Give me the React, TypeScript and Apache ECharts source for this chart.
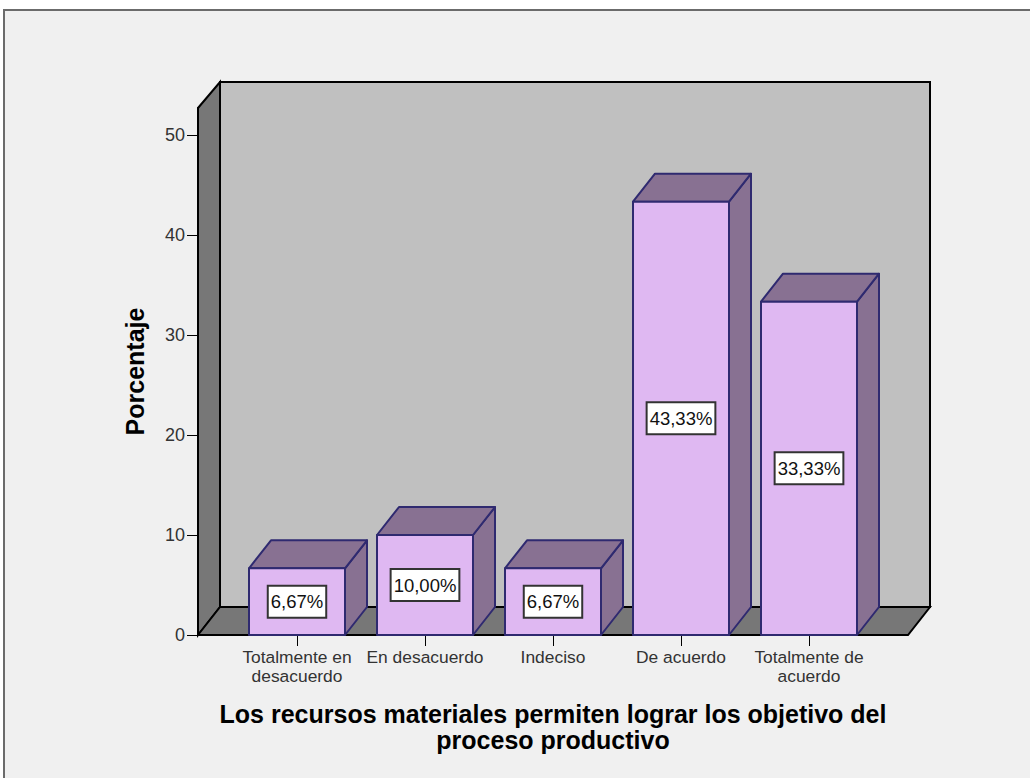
import React, { useEffect, useRef } from "react";
import * as echarts from "echarts";

const categories = [
  "Totalmente en\ndesacuerdo",
  "En desacuerdo",
  "Indeciso",
  "De acuerdo",
  "Totalmente de\nacuerdo",
];
const percentages = [6.67, 10.0, 6.67, 43.33, 33.33];
const yTicks = [0, 10, 20, 30, 40, 50];
const yTitle = "Porcentaje";
const xTitle = "Los recursos materiales permiten lograr los objetivo del\nproceso productivo";

const FONT = '"Liberation Sans", Arial, sans-serif';
const DX = 22;
const DY = -28;
const BAR_W = 96;
const FRONT = "#dfb8f2";
const SHADE = "#887192";
const EDGE = "#2f2a70";

const formatPct = (v: number) => v.toFixed(2).replace(".", ",") + "%";

export default function App() {
  const ref = useRef<HTMLDivElement>(null);
  useEffect(() => {
    const chart = echarts.init(ref.current!, null, { renderer: "svg" });

    const renderFrame = (_p: any, api: any) => {
      const origin = api.coord([0, 0]);
      const topPoint = api.coord([0, 52.7]);
      const y0 = origin[1];
      const yT = topPoint[1];
      const yB = yT - 26;
      const xL = 198;
      const xR = 908;
      const line = { stroke: "#000", lineWidth: 2, lineJoin: "miter" };
      return {
        type: "group",
        children: [
          {
            type: "polygon",
            shape: { points: [[xL + DX, yB], [xR + DX, yB], [xR + DX, y0 + DY], [xL + DX, y0 + DY]] },
            style: { fill: "#c0c0c0", ...line },
          },
          {
            type: "polygon",
            shape: { points: [[xL, yT], [xL + DX, yB], [xL + DX, y0 + DY], [xL, y0]] },
            style: { fill: "#777777", ...line },
          },
          {
            type: "polygon",
            shape: { points: [[xL, y0], [xL + DX, y0 + DY], [xR + DX, y0 + DY], [xR, y0]] },
            style: { fill: "#777777", ...line },
          },
        ],
      };
    };

    const renderBar = (_p: any, api: any) => {
      const i = api.value(0);
      const v = api.value(1);
      const base = api.coord([i, 0]);
      const top = api.coord([i, v]);
      const l = base[0] - BAR_W / 2;
      const r = base[0] + BAR_W / 2;
      const edge = { stroke: EDGE, lineWidth: 2, lineJoin: "round" };
      return {
        type: "group",
        children: [
          {
            type: "polygon",
            shape: { points: [[r, top[1]], [r + DX, top[1] + DY], [r + DX, base[1] + DY], [r, base[1]]] },
            style: { fill: SHADE, ...edge },
          },
          {
            type: "polygon",
            shape: { points: [[l, top[1]], [l + DX, top[1] + DY], [r + DX, top[1] + DY], [r, top[1]]] },
            style: { fill: SHADE, ...edge },
          },
          {
            type: "polygon",
            shape: { points: [[l, top[1]], [r, top[1]], [r, base[1]], [l, base[1]]] },
            style: { fill: FRONT, ...edge },
          },
          {
            type: "text",
            style: {
              x: base[0],
              y: (top[1] + base[1]) / 2,
              text: formatPct(v),
              align: "center",
              verticalAlign: "middle",
              font: `18.5px ${FONT}`,
              fill: "#111",
              backgroundColor: "#fff",
              borderColor: "#333",
              borderWidth: 2,
              padding: [6, 2, 5, 2],
            },
          },
        ],
      };
    };

    chart.setOption({
      animation: false,
      backgroundColor: "#ffffff",
      graphic: [
        {
          type: "rect",
          z: -10,
          shape: { x: 4, y: 10, width: 1100, height: 900 },
          style: { fill: "#f0f0f0", stroke: "#6b6b6b", lineWidth: 2 },
        },
      ],
      grid: { left: 233, right: 157, top: 108, bottom: 143 },
      xAxis: {
        type: "category",
        data: categories,
        name: xTitle,
        nameLocation: "middle",
        nameGap: 66,
        nameTextStyle: { fontFamily: FONT, fontWeight: "bold", fontSize: 25, color: "#000", lineHeight: 26 },
        axisLine: { show: false },
        axisTick: { show: true, alignWithLabel: true, length: 11, lineStyle: { color: "#000", width: 1 } },
        axisLabel: { interval: 0, fontFamily: FONT, fontSize: 17.4, color: "#333", lineHeight: 19, margin: 12 },
      },
      yAxis: {
        type: "value",
        min: yTicks[0],
        max: 52.7,
        interval: 10,
        offset: 35,
        name: yTitle,
        nameLocation: "middle",
        nameGap: 51,
        nameRotate: 90,
        nameTextStyle: { fontFamily: FONT, fontWeight: "bold", fontSize: 25, color: "#000" },
        splitLine: { show: false },
        axisLine: { show: true, lineStyle: { color: "#000", width: 2 } },
        axisTick: { show: true, length: 11, customValues: yTicks, lineStyle: { color: "#000", width: 1 } },
        axisLabel: {
          fontFamily: FONT,
          fontSize: 18,
          color: "#333",
          margin: 13,
          customValues: yTicks,
          padding: [5, 0, 0, 0],
        },
      },
      series: [
        {
          type: "custom",
          z: 1,
          silent: true,
          renderItem: renderFrame,
          data: [[0, 0]],
          encode: { x: 0, y: 1 },
        },
        {
          type: "custom",
          z: 2,
          renderItem: renderBar,
          data: percentages.map((v, i) => [i, v]),
          encode: { x: 0, y: 1 },
        },
      ],
    });
    return () => chart.dispose();
  }, []);
  return (
    <div
      ref={ref}
      style={{ position: "absolute", left: 0, top: 0, width: 1030, height: 778 }}
    />
  );
}
